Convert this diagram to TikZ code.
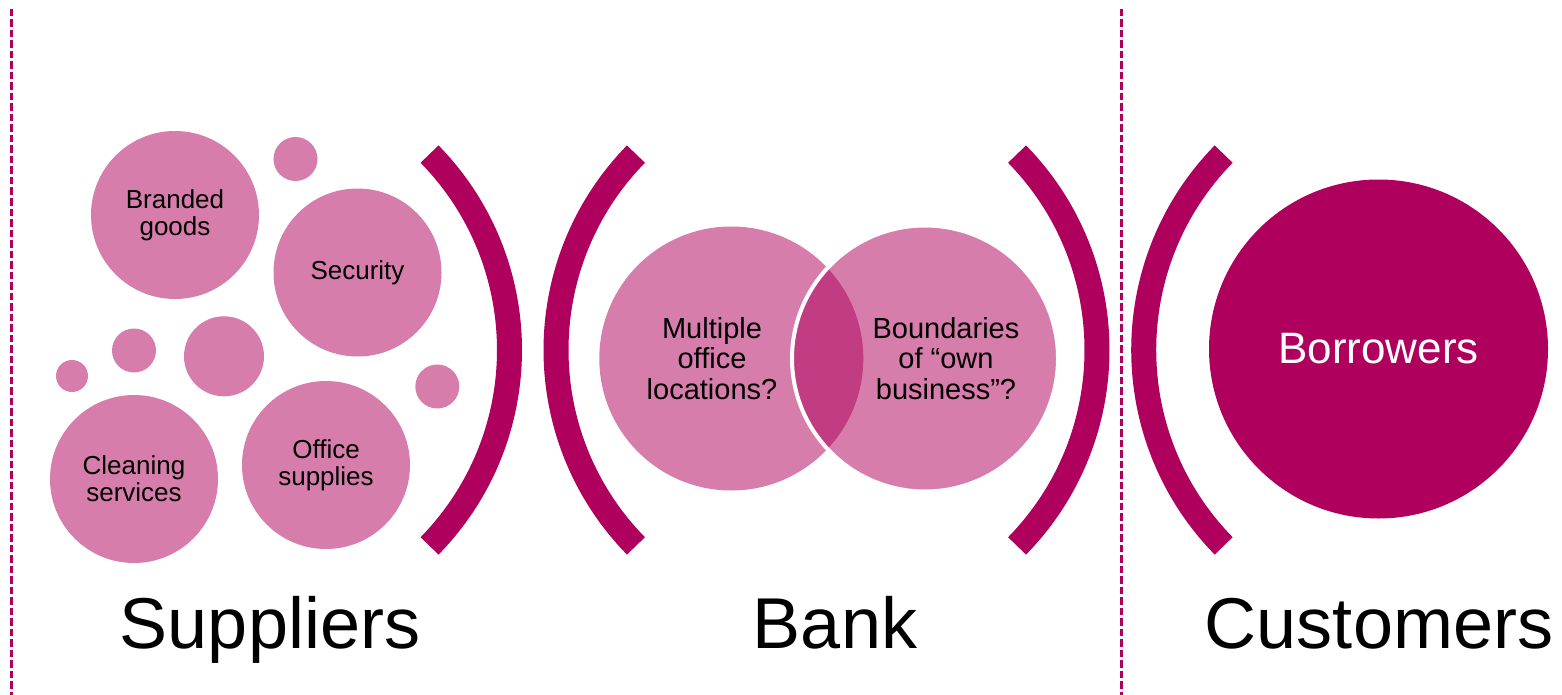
\documentclass[tikz,border=0pt]{standalone}
\usepackage{fontspec}
\setmainfont{Liberation Sans}
\definecolor{magdark}{HTML}{B0005E}
\definecolor{maglight}{HTML}{D67DAB}
\definecolor{maglens}{HTML}{C23C83}
\begin{document}
\begin{tikzpicture}[x=1pt,y=-1pt,
  blob/.style={circle,fill=maglight,inner sep=0pt,draw=none,align=center,font=\fontsize{26}{27}\selectfont},
  bracketarc/.style={draw=magdark,line width=25pt,line cap=butt},
  divider/.style={draw=magdark,line width=2.7pt,dash pattern=on 7.5pt off 3pt},
  venntext/.style={align=center,font=\fontsize{29}{30.5}\selectfont},
  bigtitle/.style={anchor=base,font=\fontsize{72}{80}\selectfont}]
\useasboundingbox (0,0) rectangle (1562,695);
% dividers
\draw[divider] (11.3,9) -- (11.3,695);
\draw[divider] (1121.7,9) -- (1121.7,695);
% supplier bubbles
\node[blob,minimum size=168pt] (branded) at (175,215) {Branded\\goods};
\node[blob,minimum size=168pt] (security) at (357.5,272.5) {Security};
\node[blob,minimum size=168pt] (cleaning) at (134,479) {Cleaning\\services};
\node[blob,minimum size=168pt] (office) at (326,465) {Office\\supplies};
\node[blob,minimum size=44pt] (s1) at (295.5,159) {};
\node[blob,minimum size=80pt] (s2) at (224,356.3) {};
\node[blob,minimum size=44pt] (s3) at (134,350.5) {};
\node[blob,minimum size=32pt] (s4) at (72,376) {};
\node[blob,minimum size=44pt] (s5) at (437.3,386.5) {};
% brackets
\coordinate (b1) at (229.5,350);
\coordinate (b2) at (836,350);
\coordinate (b3) at (817,350);
\coordinate (b4) at (1423.7,350);
\draw[bracketarc] ([shift={(-44.4:280)}]b1) arc[start angle=-44.4,end angle=44.4,radius=280];
\draw[bracketarc] ([shift={(135.6:280)}]b2) arc[start angle=135.6,end angle=224.4,radius=280];
\draw[bracketarc] ([shift={(-44.4:280)}]b3) arc[start angle=-44.4,end angle=44.4,radius=280];
\draw[bracketarc] ([shift={(135.6:280)}]b4) arc[start angle=135.6,end angle=224.4,radius=280];
% Venn
\node[circle,fill=maglight,inner sep=0pt,minimum size=264pt] (vl) at (731.3,358.5) {};
\node[circle,fill=maglight,inner sep=0pt,minimum size=266pt] (vr) at (925,358.5) {};
\begin{scope}
  \clip (vl.center) circle[radius=132];
  \fill[maglens] (vr.center) circle[radius=133];
\end{scope}
\draw[white,line width=4pt] (vr.center) circle[radius=133];
\node[venntext] (vlt) at (712,358.5) {Multiple\\office\\locations?};
\node[venntext] (vrt) at (946,358.5) {Boundaries\\of “own\\business”?};
% customers
\node[circle,fill=magdark,inner sep=0pt,minimum size=339pt,text=white,font=\fontsize{44}{48}\selectfont] (borrowers) at (1378.5,349) {Borrowers};
% titles
\node[bigtitle] (suppliers) at (270,648) {Suppliers};
\node[bigtitle] (bank) at (835,648) {Bank};
\node[bigtitle] (customers) at (1379,648) {Customers};
\end{tikzpicture}
\end{document}
